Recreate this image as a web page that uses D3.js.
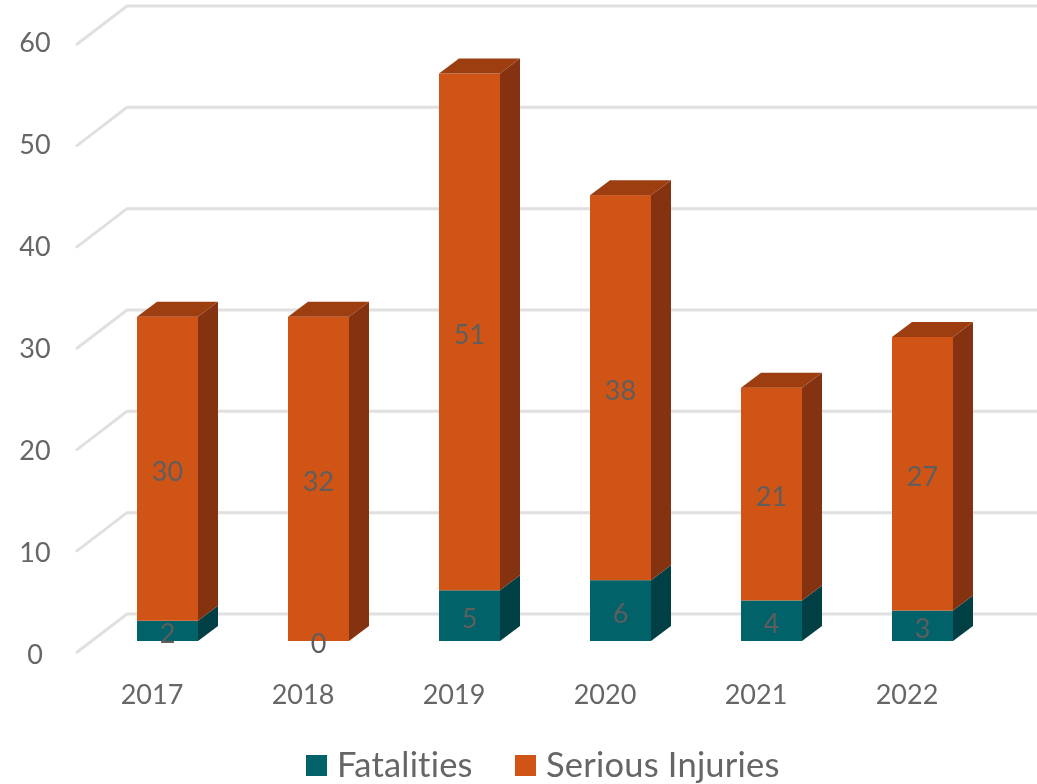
<!DOCTYPE html>
<html><head><meta charset="utf-8">
<script src="https://cdn.jsdelivr.net/npm/d3@7"></script>
<style>html,body{margin:0;padding:0;background:#fff}svg{display:block;font-family:Lato,"Open Sans",sans-serif;font-variant-ligatures:none;filter:blur(0.45px)}</style>
</head><body><svg id="c" width="1037" height="784"></svg>
<script>
const years=["2017","2018","2019","2020","2021","2022"];
const fatalities=[2,0,5,6,4,3];
const seriousInjuries=[30,32,51,38,21,27];
const yTicks=[0,10,20,30,40,50,60];
const seriesNames=["Fatalities","Serious Injuries"];
const palette={Fatalities:{front:"#02626A",side:"#003F44",top:"#014A50"},"Serious Injuries":{front:"#D05416",side:"#843210",top:"#9C3E10"}};
const W=1037,dx=20,dy=15,wallX=51,wallY=39,barW=61;
const svg=d3.select("#c");
const root=svg.append("g");
const y=d3.scaleLinear().domain([0,60]).range([641,33]);
const yLabel=d3.scaleLinear().domain([0,60]).range([653,41]);
const x=d3.scaleBand().domain(years).range([92,998]);
const barX=d=>x(d)+x.bandwidth()/2-barW/2;

// gridlines on the back wall and side wall
const grid=root.append("g").attr("stroke","#E0E0E0").attr("stroke-width",3).attr("fill","none");
yTicks.forEach(t=>{
  const by=y(t)-27;
  grid.append("path").attr("d",d3.line()([[76,by+wallY],[76+wallX,by],[W,by]]));
});

// y axis labels
const axisLeft=root.append("g").attr("fill","#666").attr("font-size",27).attr("text-anchor","middle");
yTicks.forEach(t=>axisLeft.append("text").attr("x",35).attr("y",yLabel(t)+11).text(t));

// stacked bars
const rows=years.map((yr,i)=>({yr,vals:[fatalities[i],seriousInjuries[i]]}));
rows.forEach(r=>{
  const x0=barX(r.yr),x1=x0+barW;
  let base=0;
  const g=root.append("g");
  seriesNames.forEach((s,k)=>{
    const v=r.vals[k];
    if(v===0) return;
    const y0=y(base),y1=y(base+v),c=palette[s];
    g.append("path").attr("fill",c.side).attr("d",d3.line()([[x1,y0],[x1+dx,y0-dy],[x1+dx,y1-dy],[x1,y1]]));
    g.append("rect").attr("x",x0).attr("y",y1).attr("width",barW).attr("height",y0-y1).attr("fill",c.front);
    base+=v;
  });
  const top=y(base),c=palette[seriesNames[1]];
  g.append("path").attr("fill",c.top).attr("d",d3.line()([[x0,top],[x0+dx,top-dy],[x1+dx,top-dy],[x1,top]]));
});

// data labels
const labels=root.append("g").attr("fill","#5E5E5E").attr("font-size",27).attr("text-anchor","middle");
rows.forEach(r=>{
  const cx=barX(r.yr)+barW/2;
  let base=0;
  r.vals.forEach(v=>{
    labels.append("text").attr("x",cx).attr("y",y(base+v/2)+12).text(v);
    base+=v;
  });
});

// category labels
const cat=root.append("g").attr("fill","#666").attr("font-size",27).attr("text-anchor","middle");
years.forEach(d=>cat.append("text").attr("x",barX(d)+15).attr("y",704).text(d));

// legend
const leg=root.append("g").attr("fill","#666").attr("font-size",34.5).attr("letter-spacing",0.2);
const legX=[306,515];
seriesNames.forEach((s,i)=>{
  leg.append("rect").attr("x",legX[i]).attr("y",755).attr("width",21).attr("height",21).attr("fill",palette[s].front);
  leg.append("text").attr("x",legX[i]+31).attr("y",777).text(s);
});
</script></body></html>
